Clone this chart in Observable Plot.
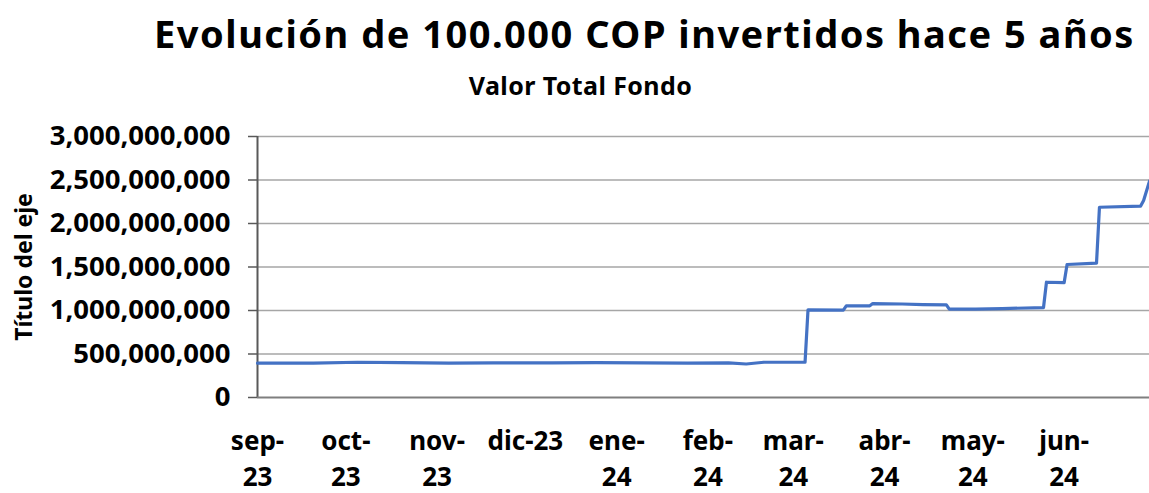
<!DOCTYPE html>
<html>
<head>
<meta charset="utf-8">
<script src="https://cdn.jsdelivr.net/npm/d3@7"></script>
<script src="https://cdn.jsdelivr.net/npm/@observablehq/plot@0.6"></script>
<style>
  html, body { margin: 0; padding: 0; background: #fff; }
  #wrap { position: relative; width: 1149px; height: 493px; overflow: hidden; font-family: "Noto Sans", sans-serif; }
  .t { position: absolute; white-space: nowrap; font-weight: bold; color: #000; transform: translateX(-50%); }
  #title { left: 644.5px; top: 14.3px; font-size: 38px; line-height: 38px; letter-spacing: 1.5px; }
  #subtitle { left: 580.5px; top: 72.8px; font-size: 25px; line-height: 25px; letter-spacing: 0.4px; }
  #chart { position: absolute; left: 0; top: 110px; }
</style>
</head>
<body>
<div id="wrap">
  <div id="title" class="t">Evolución de 100.000 COP invertidos hace 5 años</div>
  <div id="subtitle" class="t">Valor Total Fondo</div>
  <div id="chart"></div>
</div>
<script>
const dates = [
  "2023-09-01","2023-09-20","2023-10-05","2023-10-20","2023-11-05","2023-11-20",
  "2023-12-10","2023-12-25","2024-01-10","2024-01-25","2024-02-08","2024-02-14",
  "2024-02-20","2024-03-05","2024-03-06","2024-03-18","2024-03-19","2024-03-27",
  "2024-03-28","2024-04-07","2024-04-14","2024-04-22","2024-04-23","2024-05-02",
  "2024-05-11","2024-05-25","2024-05-26","2024-06-01","2024-06-02","2024-06-12",
  "2024-06-13","2024-06-27","2024-06-28","2024-06-30"
];
const values = [
  395e6, 396e6, 405e6, 400e6, 395e6, 399e6,
  398e6, 401e6, 398e6, 396e6, 397e6, 385e6,
  405e6, 406e6, 1008e6, 1005e6, 1054e6, 1054e6,
  1080e6, 1075e6, 1068e6, 1065e6, 1015e6, 1015e6,
  1022e6, 1034e6, 1325e6, 1320e6, 1529e6, 1544e6,
  2187e6, 2200e6, 2264e6, 2486e6
];
const monthTicks = ["2023-09-01","2023-10-01","2023-11-01","2023-12-01","2024-01-01","2024-02-01","2024-03-01","2024-04-01","2024-05-01","2024-06-01"];
const monthLabels = ["sep-\n23","oct-\n23","nov-\n23","dic-23","ene-\n24","feb-\n24","mar-\n24","abr-\n24","may-\n24","jun-\n24"];
const yTicks = [0, 500e6, 1000e6, 1500e6, 2000e6, 2500e6, 3000e6];

const data = dates.map((d, i) => ({date: new Date(d + "T00:00:00"), value: values[i]}));
const tickDates = monthTicks.map(d => new Date(d + "T00:00:00"));
const labelOf = new Map(tickDates.map((d, i) => [+d, monthLabels[i]]));
const xDomain = [new Date(dates[0] + "T00:00:00"), new Date(dates[dates.length - 1] + "T00:00:00")];

const chart = Plot.plot({
  width: 1149,
  height: 383,
  marginTop: 26,
  marginBottom: 96,
  marginLeft: 257,
  marginRight: 0,
  style: {fontFamily: "Noto Sans, sans-serif", background: "#fff", color: "#000"},
  x: {type: "utc", domain: xDomain},
  y: {domain: [0, 3000e6]},
  marks: [
    Plot.ruleY(yTicks.slice(1), {stroke: "#a6a6a6", strokeWidth: 1.5}),
    Plot.axisY({
      ticks: yTicks,
      tickSize: 9,
      tickPadding: 18,
      tickFormat: d3.format(","),
      fontSize: 27.5,
      fontWeight: "bold",
      stroke: "#595959",
      strokeWidth: 1.5,
      label: null
    }),
    Plot.axisY({
      ticks: [],
      tickSize: 0,
      label: "Título del eje",
      labelAnchor: "center",
      labelArrow: "none",
      labelOffset: 242,
      fontSize: 23,
      fontWeight: "bold"
    }),
    Plot.axisX({
      ticks: tickDates,
      tickSize: 0,
      tickPadding: 27.5,
      tickFormat: d => labelOf.get(+d),
      fontSize: 26,
      fontWeight: "bold",
      lineHeight: 1.37,
      label: null
    }),
    Plot.ruleX([xDomain[0]], {stroke: "#595959", strokeWidth: 2}),
    Plot.ruleY([0], {stroke: "#7f7f7f", strokeWidth: 2}),
    Plot.line(data, {x: "date", y: "value", stroke: "#4472C4", strokeWidth: 3.2, curve: "linear"})
  ]
});
document.getElementById("chart").appendChild(chart);
</script>
</body>
</html>
